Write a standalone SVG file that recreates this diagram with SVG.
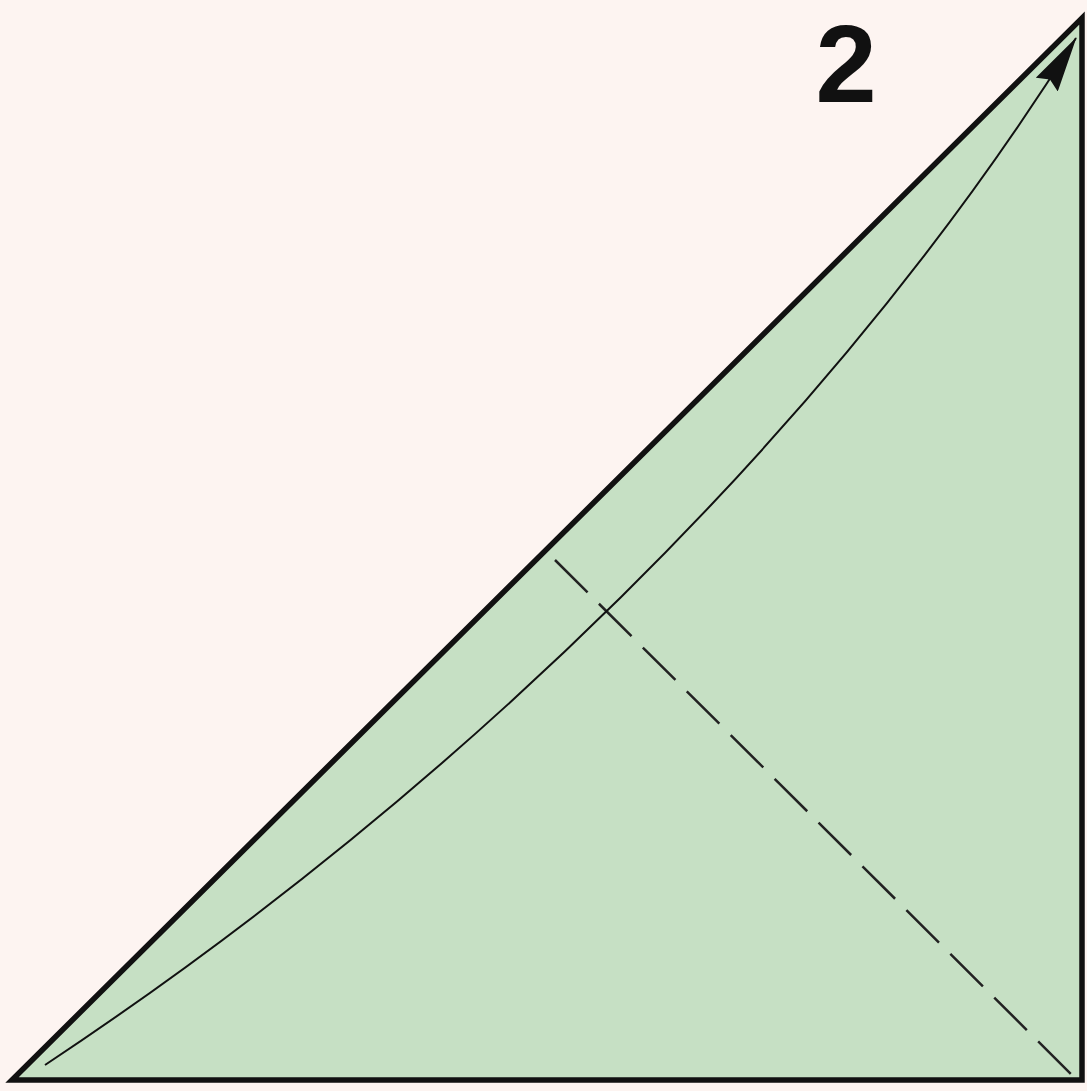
<svg xmlns="http://www.w3.org/2000/svg" width="1087" height="1091" viewBox="0 0 1087 1091">
<style>
.edge{fill:#c6e0c4;stroke:#111;stroke-width:5.5;stroke-linejoin:miter}
.fold{fill:none;stroke:#222;stroke-width:2.5;stroke-dasharray:46 16}
.arrow{fill:none;stroke:#111;stroke-width:2}
.num{font-family:"Liberation Sans",Arial,sans-serif;font-weight:bold;font-size:110px;fill:#111}
</style>
<defs>
<marker id="ah" markerWidth="56" markerHeight="26" refX="55" refY="13" orient="auto" markerUnits="userSpaceOnUse">
<path d="M0,0 L56,13 L0,26 L6,13 Z" fill="#111"/>
</marker>
</defs>
<rect x="0" y="0" width="1087" height="1091" fill="#fdf4f1"/>
<g id="paper">
<polygon class="edge" points="12,1080 1082,18 1082,1080"/>
</g>
<g id="number">
<text class="num" x="846" y="102" text-anchor="middle">2</text>
</g>
<g id="connectors">
<line class="fold" x1="555" y1="560" x2="1075" y2="1078"/>
<path class="arrow" d="M45,1065 C452,795 830,430 1076,38" marker-end="url(#ah)"/>
</g>
</svg>
